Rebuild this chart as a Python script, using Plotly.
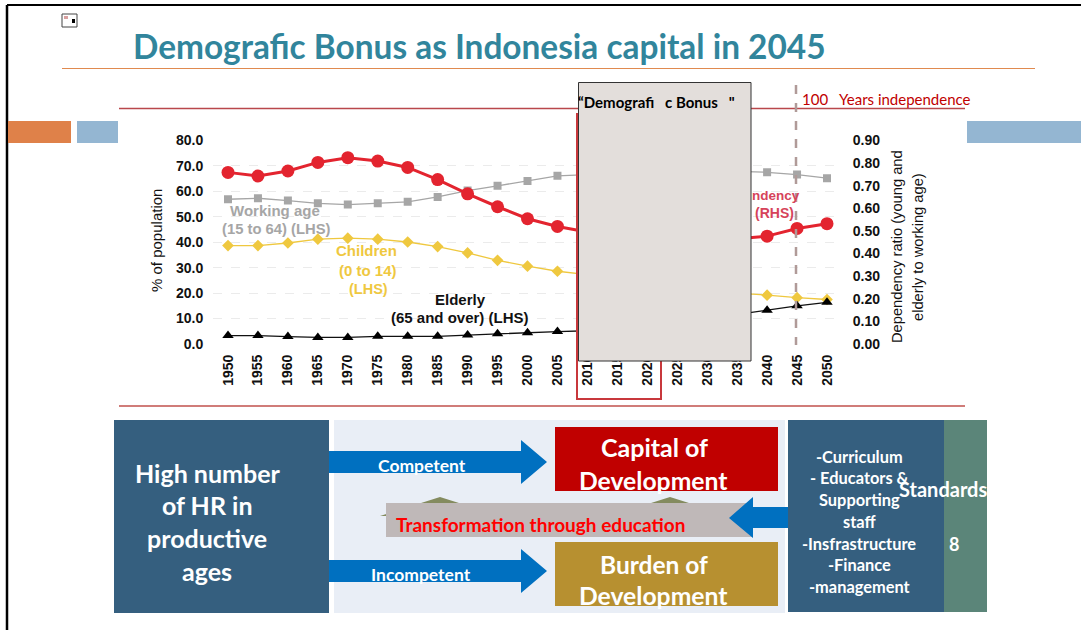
import plotly.graph_objects as go

W, H = 1081, 630

years = list(range(1950, 2055, 5))
working_age = [56.9, 57.3, 56.4, 55.3, 54.8, 55.3, 55.9, 57.8, 60.3, 62.2, 64.1, 66.1, 66.6, 67.3, 67.8, 68.0, 68.0, 67.9, 67.5, 66.6, 65.2]
children = [38.7, 38.7, 39.7, 41.2, 41.6, 41.2, 40.1, 38.3, 35.8, 32.9, 30.6, 28.6, 27.3, 26.0, 24.5, 23.0, 21.5, 20.0, 19.2, 18.2, 17.5]
elderly = [3.3, 3.3, 2.9, 2.6, 2.6, 3.0, 3.0, 3.0, 3.5, 4.0, 4.4, 4.9, 5.2, 6.0, 7.0, 8.3, 10.0, 11.5, 13.3, 15.0, 16.4]
dependency = [0.759, 0.743, 0.765, 0.803, 0.824, 0.809, 0.781, 0.727, 0.664, 0.607, 0.554, 0.520, 0.495, 0.480, 0.470, 0.462, 0.460, 0.465, 0.477, 0.511, 0.532]
left_ticks = [0, 10, 20, 30, 40, 50, 60, 70, 80]
right_ticks = [0, 0.1, 0.2, 0.3, 0.4, 0.5, 0.6, 0.7, 0.8, 0.9]


def px(x):
    return x / W


def py(y):
    return 1 - y / H


fig = go.Figure()
fig.add_trace(go.Scatter(x=years, y=working_age, name="Working age", mode="lines+markers",
                         line=dict(color="#A6A6A6", width=1.3), marker=dict(symbol="square", size=8, color="#A6A6A6")))
fig.add_trace(go.Scatter(x=years, y=children, name="Children", mode="lines+markers",
                         line=dict(color="#EFC83F", width=1.3), marker=dict(symbol="diamond", size=9, color="#EFC83F")))
fig.add_trace(go.Scatter(x=years, y=elderly, name="Elderly", mode="lines+markers",
                         line=dict(color="#111111", width=1.3), marker=dict(symbol="triangle-up", size=10, color="#000000")))
fig.add_trace(go.Scatter(x=years, y=dependency, name="Dependency", yaxis="y2", mode="lines+markers",
                         line=dict(color="#E3242F", width=3), marker=dict(symbol="circle", size=13, color="#E3242F")))

shapes = []


def rect(x0, y0, x1, y1, fill, line=None, lw=0):
    shapes.append(dict(type="rect", xref="paper", yref="paper", x0=px(x0), x1=px(x1), y0=py(y0), y1=py(y1),
                       fillcolor=fill, line=dict(color=line or fill, width=lw), layer="above"))


def seg(x0, y0, x1, y1, color, lw=1, dash="solid"):
    shapes.append(dict(type="line", xref="paper", yref="paper", x0=px(x0), x1=px(x1), y0=py(y0), y1=py(y1),
                       line=dict(color=color, width=lw, dash=dash), layer="above"))


def poly(points, fill):
    d = "M " + " L ".join(f"{px(x):.5f},{py(y):.5f}" for x, y in points) + " Z"
    shapes.append(dict(type="path", xref="paper", yref="paper", path=d, fillcolor=fill,
                       line=dict(width=0), layer="above"))


# page frame and header
seg(7, 5, 1081, 5, "#000000", 2)
seg(7, 5, 7, 630, "#000000", 2.5)
seg(62, 68.5, 1035, 68.5, "#E08A4F", 1)
rect(8, 121, 71, 143, "#DF8149")
rect(77, 121, 118, 143, "#94B6D2")
rect(967, 121, 1081, 143, "#94B6D2")
rect(62, 14, 77, 27, "#FFFFFF", "#444444", 1)
rect(72, 19, 75, 23, "#000000")
rect(64, 16, 68, 19, "#D9A0A0")

# chart frame
seg(119, 108.5, 965, 108.5, "#B9474B", 1.6)
seg(119, 406, 965, 406, "#C0504D", 1.6)
seg(796, 85, 796, 345, "#B09A98", 2.5, "dash")
rect(577, 114, 661, 399, "rgba(0,0,0,0)", "#C8383C", 2)
rect(578.5, 82.5, 751, 361, "#E3DEDB", "#333333", 1)

# lower diagram
rect(334, 420, 785, 613, "#E9EEF6")
rect(114, 420, 329, 613, "#355F7F")
rect(788, 420, 944, 612, "#355F7F")
rect(944, 420, 987, 612, "#5B8579")
rect(555, 427, 778, 491, "#C00000")
rect(555, 542, 778, 606, "#B79030")
poly([(329, 451), (521, 451), (521, 440), (547, 462), (521, 484), (521, 473), (329, 473)], "#0070C0")
poly([(329, 560), (521, 560), (521, 549), (547, 571), (521, 593), (521, 582), (329, 582)], "#0070C0")
poly([(380, 516), (440, 497), (500, 516)], "#848B5F")
poly([(610, 516), (670, 497), (730, 516)], "#848B5F")
rect(386, 503, 753, 537, "#BFB8B8")
poly([(788, 507), (753, 507), (753, 497), (729, 518), (753, 538), (753, 528), (788, 528)], "#0070C0")

annotations = []


def ann(text, x, y, size, color, bold=True, family="Lato", anchor="center", angle=0):
    annotations.append(dict(text=f"<b>{text}</b>" if bold else text, xref="paper", yref="paper", x=px(x), y=py(y),
                            xanchor=anchor, yanchor="middle", showarrow=False, textangle=angle,
                            font=dict(family=family, size=size, color=color)))


ARIAL = "Liberation Sans"
ann("Demografic Bonus as Indonesia capital in 2045", 131, 46.5, 33.4, "#31859C", anchor="left")
ann("100   Years independence", 800, 98.5, 15, "#C00000", bold=False, anchor="left")
ann("“Demografi   c Bonus   \"", 576, 102.5, 15, "#000000", anchor="left")

ann("Working age", 275, 211, 15, "#A6A6A6", family=ARIAL)
ann("(15 to 64) (LHS)", 276, 229, 14.8, "#A6A6A6", family=ARIAL)
ann("Children", 366, 251, 15, "#EFC83F", family=ARIAL)
ann("(0 to 14)", 368, 270, 15, "#EFC83F", family=ARIAL)
ann("(LHS)", 368, 289, 14.5, "#EFC83F", family=ARIAL)
ann("Elderly", 460, 299.5, 15, "#111111", family=ARIAL)
ann("(65 and over) (LHS)", 460, 317.5, 15, "#111111", family=ARIAL)
ann("ndency", 802, 195, 13.5, "#D6435A", family=ARIAL, anchor="right")
ann("(RHS)", 774, 213, 14, "#D6435A", family=ARIAL)
ann("% of population", 157, 241, 15, "#111111", bold=False, family=ARIAL, angle=-90)
ann("Dependency ratio (young and", 897, 247, 14.7, "#111111", bold=False, family=ARIAL, angle=-90)
ann("elderly to working age)", 918, 247, 14.7, "#111111", bold=False, family=ARIAL, angle=-90)

for text, y in [("High number", 473), ("of HR in", 505), ("productive", 538), ("ages", 571)]:
    ann(text, 207, y, 25, "#FFFFFF")
ann("Competent", 422, 465, 17.5, "#FFFFFF")
ann("Incompetent", 421, 574, 17.5, "#FFFFFF")
ann("Capital of", 654, 447, 25, "#FFFFFF")
ann("Development", 653, 480, 24.7, "#FFFFFF")
ann("Burden of", 654, 564, 24.5, "#FFFFFF")
ann("Development", 653, 595, 24.7, "#FFFFFF")
ann("Transformation through education", 394, 524, 19, "#FF0000", anchor="left")
for text, y in [("-Curriculum", 456), ("- Educators &", 477), ("Supporting", 499), ("staff", 521),
                ("-Insfrastructure", 543), ("-Finance", 564), ("-management", 586)]:
    ann(text, 859, y, 16.4, "#FFFFFF")
ann("Standards", 897, 489, 20, "#FFFFFF", anchor="left")
ann("8", 954, 544, 18, "#FFFFFF")

year_font = dict(family=ARIAL, size=14, color="#111111", weight=700)
tick_font = dict(family=ARIAL, size=14, color="#111111", weight=700)

fig.update_layout(
    width=W, height=H, margin=dict(l=0, r=0, t=0, b=0, autoexpand=False),
    paper_bgcolor="#FFFFFF", plot_bgcolor="#FFFFFF", showlegend=False,
    shapes=shapes, annotations=annotations,
    xaxis=dict(domain=[px(213), px(843)], range=[1950 - 15 / 5.99, 2050 + 16 / 5.99], tickmode="array",
               tickvals=years, ticktext=[str(v) for v in years], tickangle=-90, tickfont=year_font, automargin=False,
               showgrid=False, zeroline=False, showline=False, ticks="outside", ticklen=4, tickcolor="rgba(0,0,0,0)"),
    yaxis=dict(domain=[py(344), py(140.5)], range=[0, 80], tickmode="array", tickvals=left_ticks, automargin=False,
               ticktext=[f"{v:.1f}" for v in left_ticks], tickfont=tick_font, zeroline=False,
               showgrid=True, gridcolor="#EBEBEB", griddash="dash", gridwidth=1,
               ticks="outside", ticklen=6, tickcolor="rgba(0,0,0,0)"),
    yaxis2=dict(domain=[py(344), py(140.5)], range=[0, 0.9], overlaying="y", side="right", anchor="x", tickmode="array",
                tickvals=right_ticks, ticktext=[f"{v:.2f}" for v in right_ticks], tickfont=tick_font, automargin=False,
                showgrid=False, zeroline=False, ticks="outside", ticklen=6, tickcolor="rgba(0,0,0,0)"),
)

fig.write_html("out.html", config=dict(displayModeBar=False),
               post_script="document.body.style.margin='0';document.body.style.overflow='hidden';")
